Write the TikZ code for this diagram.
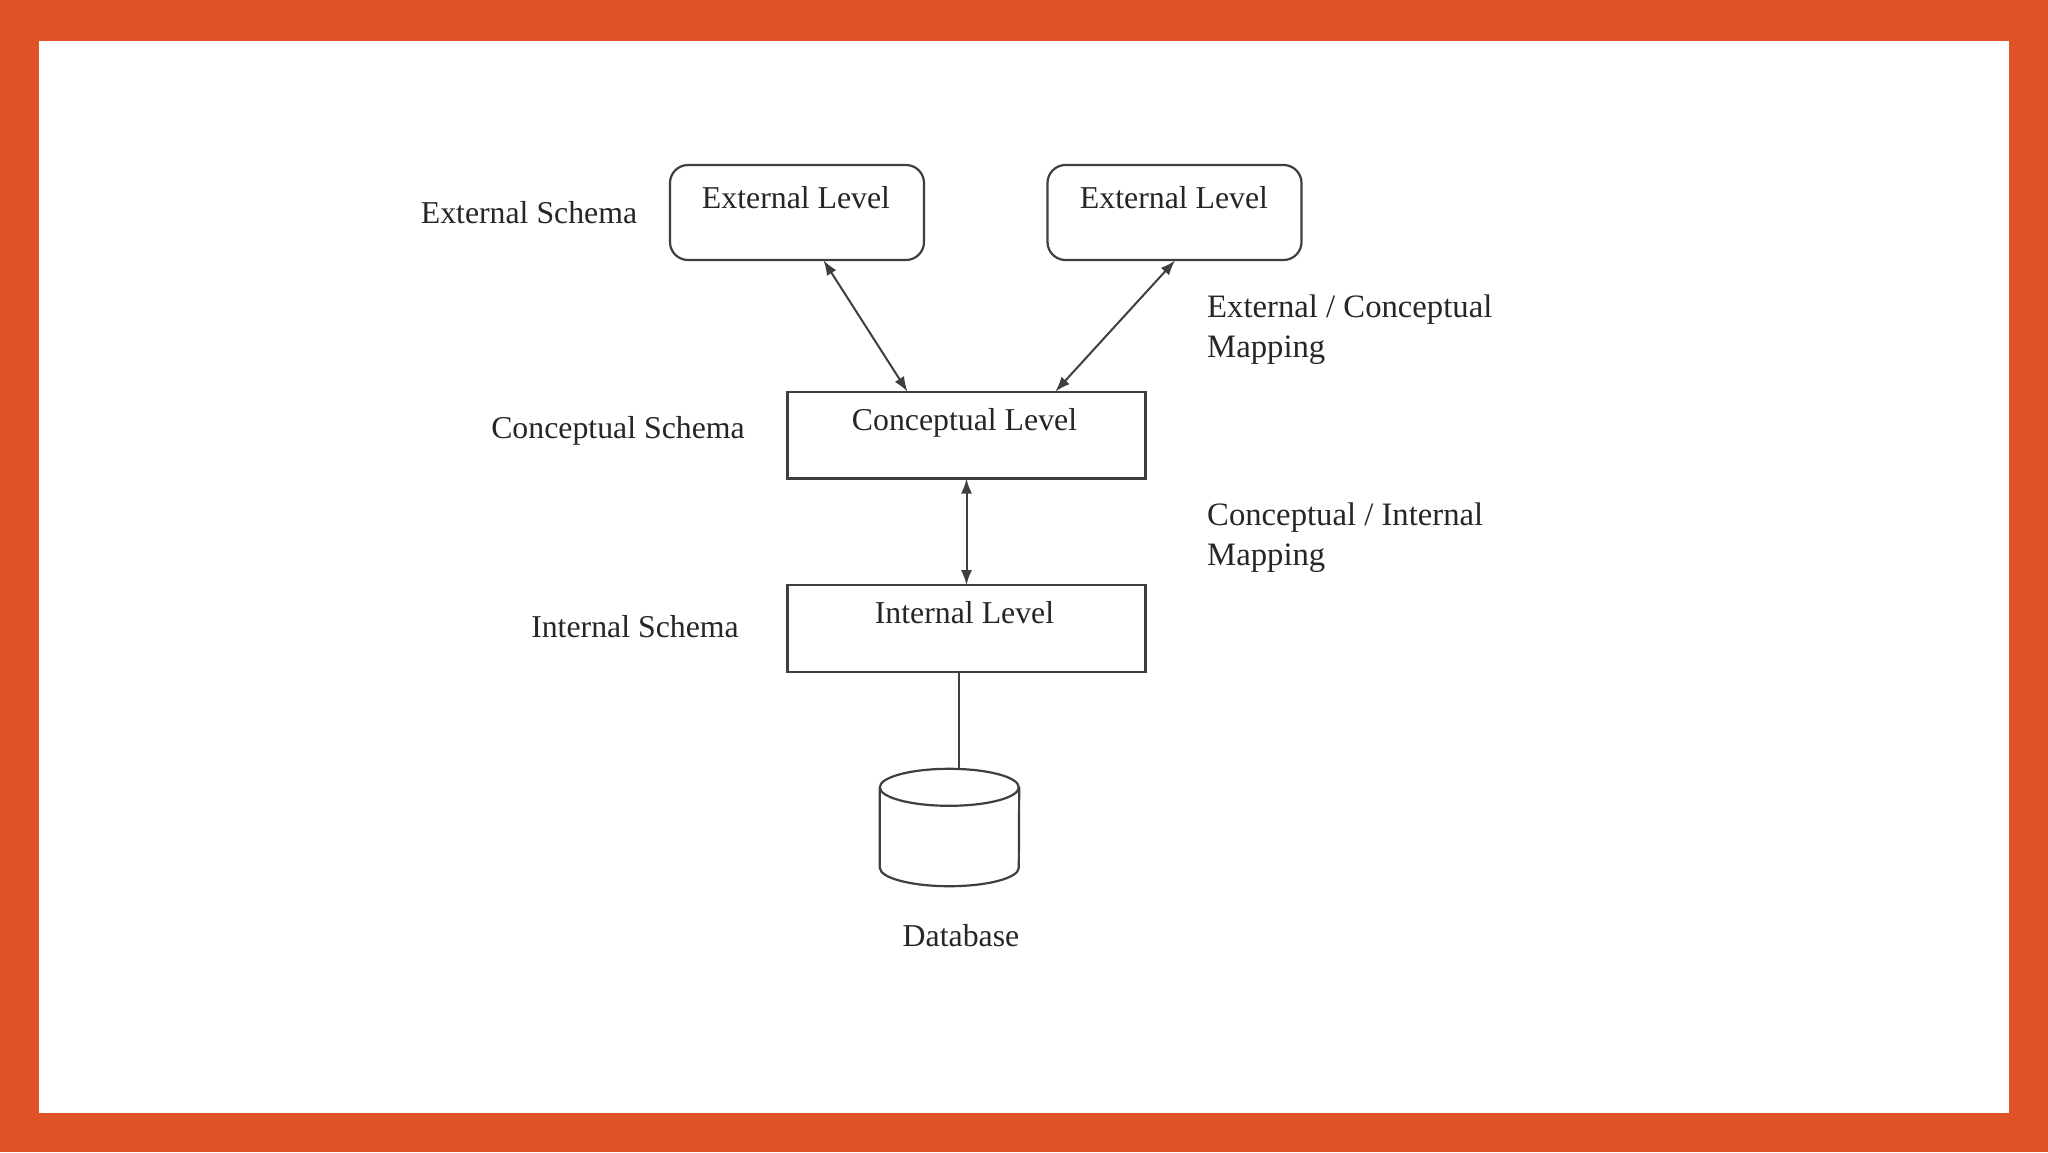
\documentclass[tikz,border=0pt]{standalone}
\usepackage{fontspec}
\setmainfont{Liberation Serif}
\usetikzlibrary{arrows.meta,calc}
\definecolor{frameorange}{HTML}{E05326}
\definecolor{inkgrey}{HTML}{3F3F3F}
\definecolor{textgrey}{HTML}{262626}
\tikzset{
  x=1pt,y=-1pt,
  every node/.style={text=textgrey,font=\fontsize{31.8}{40}\selectfont,inner sep=0pt},
  softbox/.style={draw=inkgrey,line width=2.2pt,rounded corners=18pt,minimum width=254pt,minimum height=95pt,fill=white},
  plainbox/.style={draw=inkgrey,line width=2.2pt,minimum width=358pt,minimum height=86.5pt,fill=white},
  dbarea/.style={minimum width=139pt,minimum height=117pt},
  dbline/.style={draw=inkgrey,line width=2.2pt},
  link/.style={draw=inkgrey,line width=2pt},
  twoway/.style={link,{Latex[length=15pt,width=11pt]}-{Latex[length=15pt,width=11pt]},shorten >=-1pt,shorten <=-1pt},
  note/.style={align=left,anchor=west,font=\fontsize{32.7}{40}\selectfont}
}
\begin{document}
\begin{tikzpicture}
\useasboundingbox (0,0) rectangle (2048,1152);
\fill[frameorange] (0,0) rectangle (2048,1152);
\fill[white] (38.5,40.5) rectangle (2009,1112.5);
\node[softbox] (ext1) at (797,212.5) {};
\node[softbox] (ext2) at (1174.5,212.5) {};
\node[plainbox] (con) at (966.5,435.2) {};
\node[plainbox] (int) at (966.5,628.5) {};
\node[dbarea] (db) at (949.5,827.5) {};
\draw[dbline] ($(db.north west)+(0,18.5)$) arc[start angle=180,end angle=360,x radius=69.5pt,y radius=18.5pt]
  arc[start angle=0,end angle=180,x radius=69.5pt,y radius=18.5pt] -- ($(db.south west)+(0,-18.5)$)
  arc[start angle=180,end angle=360,x radius=69.5pt,y radius=18.5pt] -- ($(db.north east)+(0,18.5)$);
\node (ext1t) at (796,198) {External Level};
\node (ext2t) at (1174,198) {External Level};
\node (cont) at (964.5,422.5) {Conceptual Level};
\node (intt) at (964.5,613) {Internal Level};
\node (s1) at (529,212.5) {External Schema};
\node (s2) at (618,431) {Conceptual Schema};
\node (s3) at (635,627) {Internal Schema};
\node (dbl) at (961,936) {Database};
\node[note] (m1) at (1207,330) {External / Conceptual\\Mapping};
\node[note] (m2) at (1207,538) {Conceptual / Internal\\Mapping};
\draw[twoway] ([xshift=27pt]ext1.south) -- ([xshift=-59.5pt]con.north);
\draw[twoway] (ext2.south) -- ([xshift=89.5pt]con.north);
\draw[twoway] (con.south) -- (int.north);
\draw[link] ([xshift=-7.5pt]int.south) -- ([xshift=-7.5pt]int.south |- db.north);
\end{tikzpicture}
\end{document}
